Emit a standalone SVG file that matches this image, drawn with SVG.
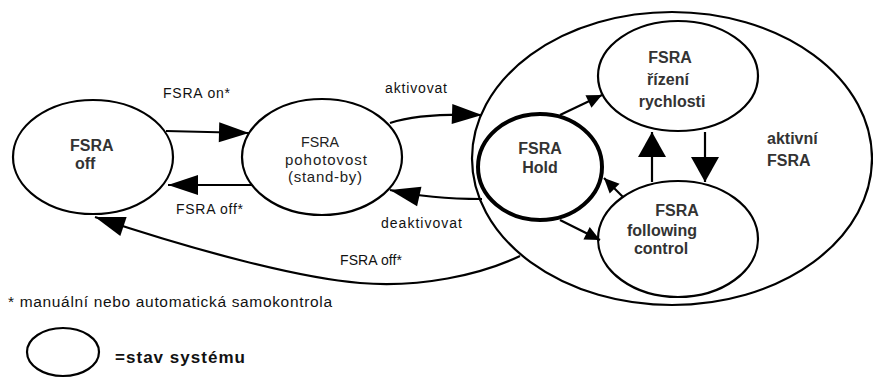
<svg xmlns="http://www.w3.org/2000/svg" width="873" height="378" viewBox="0 0 873 378">
<style>
.node{fill:#fff;stroke:#000;stroke-width:2.2}
.thick{stroke-width:4}
.bl{font-family:"Liberation Sans",Arial,sans-serif;font-weight:bold;font-size:16px;fill:#333}
.nl{font-family:"Liberation Sans",Arial,sans-serif;font-size:15px;fill:#222}
.lb{font-family:"Liberation Sans",Arial,sans-serif;font-size:14px;fill:#111}
.fn{font-family:"Liberation Sans",Arial,sans-serif;font-size:15.5px;fill:#111}
.c{text-anchor:middle}
.conn path{fill:none;stroke:#000;stroke-width:2.2}
</style>
<defs>
<marker id="big" markerUnits="userSpaceOnUse" markerWidth="30" markerHeight="20" refX="30" refY="10" orient="auto" overflow="visible"><path d="M0,0 L30,10 L0,20 z" fill="#000"/></marker>
<marker id="mid" markerUnits="userSpaceOnUse" markerWidth="25" markerHeight="28" refX="25" refY="14" orient="auto" overflow="visible"><path d="M0,0 L25,14 L0,28 z" fill="#000"/></marker>
<marker id="small" markerUnits="userSpaceOnUse" markerWidth="15" markerHeight="14" refX="15" refY="7" orient="auto" overflow="visible"><path d="M0,0 L15,7 L0,14 z" fill="#000"/></marker>
</defs>
<rect width="873" height="378" fill="#fff"/>

<g id="aktivni">
<ellipse class="node" cx="672" cy="158.5" rx="200" ry="146.5"/>
<text class="bl" x="767" y="144">aktivní</text>
<text class="bl" x="767" y="166">FSRA</text>
</g>

<g id="off">
<ellipse class="node" cx="93" cy="157" rx="80" ry="57"/>
<text class="bl" x="70" y="151">FSRA</text>
<text class="bl" x="75" y="169">off</text>
</g>

<g id="standby">
<ellipse class="node" cx="322" cy="157" rx="80" ry="58"/>
<text class="nl c" x="320" y="147" textLength="38" lengthAdjust="spacingAndGlyphs">FSRA</text>
<text class="nl c" x="326" y="165" textLength="82" lengthAdjust="spacing">pohotovost</text>
<text class="nl c" x="325" y="182" textLength="74" lengthAdjust="spacing">(stand-by)</text>
</g>

<g id="hold">
<ellipse class="node thick" cx="540" cy="167" rx="62" ry="53"/>
<text class="bl c" x="540" y="154">FSRA</text>
<text class="bl c" x="540" y="173">Hold</text>
</g>

<g id="rizeni">
<ellipse class="node" cx="678" cy="76" rx="80" ry="55"/>
<text class="bl c" x="670" y="63">FSRA</text>
<text class="bl c" x="668" y="85">řízení</text>
<text class="bl c" x="672" y="107">rychlosti</text>
</g>

<g id="following">
<ellipse class="node" cx="678" cy="239" rx="80" ry="58"/>
<text class="bl c" x="677" y="216">FSRA</text>
<text class="bl c" x="662" y="236">following</text>
<text class="bl c" x="661" y="254">control</text>
</g>

<g class="conn" id="connectors">
<path d="M166,131 L249,133" marker-end="url(#big)"/>
<path d="M252,185 L168,185" marker-end="url(#big)"/>
<path d="M390,123 Q420,113 482,115" marker-end="url(#big)"/>
<path d="M482,199 Q430,199 390,190" marker-end="url(#big)"/>
<path d="M520,256 C480,275 420,288 360,283 C300,278 200,252 95,217" marker-end="url(#big)"/>
<path d="M560,115 L602,95" marker-end="url(#small)"/>
<path d="M652,182 L652,132" marker-end="url(#mid)"/>
<path d="M705,132 L705,182" marker-end="url(#mid)"/>
<path d="M623,197 L604,178" marker-end="url(#small)"/>
<path d="M560,220 L600,240" marker-end="url(#small)"/>
</g>

<g id="labels">
<text class="lb" x="163" y="98" textLength="67" lengthAdjust="spacing">FSRA on*</text>
<text class="lb" x="176" y="214" textLength="67" lengthAdjust="spacing">FSRA off*</text>
<text class="lb" x="385" y="93" textLength="62" lengthAdjust="spacing">aktivovat</text>
<text class="lb" x="381" y="228" textLength="81" lengthAdjust="spacing">deaktivovat</text>
<text class="lb" x="340" y="265" textLength="62" lengthAdjust="spacing">FSRA off*</text>
<text class="fn" x="8" y="307" textLength="324" lengthAdjust="spacing">* manuální nebo automatická samokontrola</text>
</g>

<g id="legend">
<ellipse class="node" cx="63" cy="352" rx="36" ry="24"/>
<text class="bl" x="115" y="363" style="font-size:17px;fill:#111" textLength="130" lengthAdjust="spacing">=stav systému</text>
</g>
</svg>
